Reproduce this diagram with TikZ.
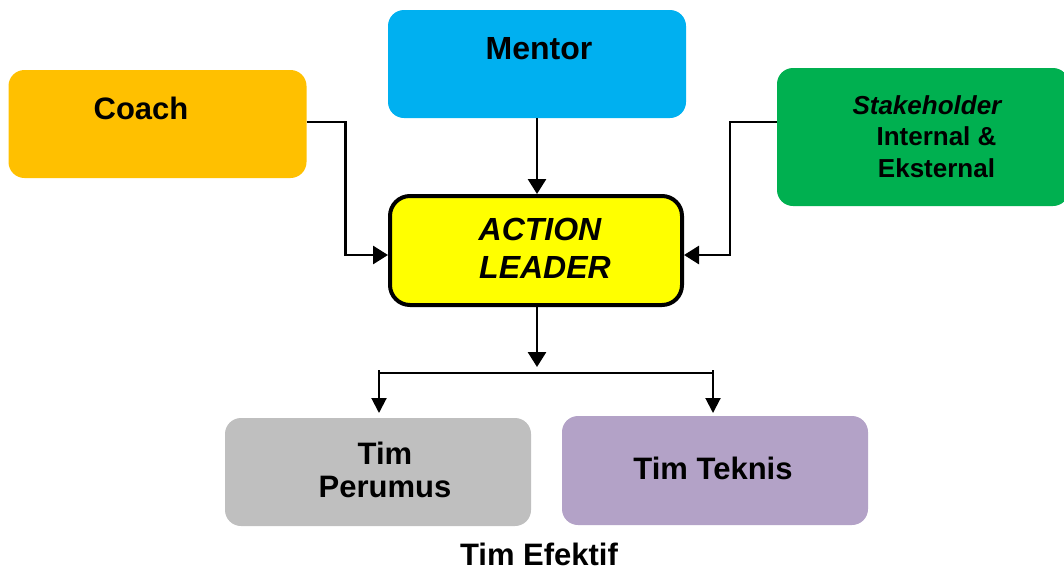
\documentclass[tikz,border=0pt]{standalone}
\usepackage{fontspec}
\setmainfont{Liberation Sans}
\usetikzlibrary{arrows.meta}
\definecolor{coachc}{HTML}{FFC000}
\definecolor{mentorc}{HTML}{00B0F0}
\definecolor{stakec}{HTML}{00B050}
\definecolor{leaderc}{HTML}{FFFF00}
\definecolor{perumusc}{HTML}{BFBFBF}
\definecolor{teknisc}{HTML}{B3A2C7}
\begin{document}
\begin{tikzpicture}[x=1pt,y=-1pt,
  box/.style={rectangle, rounded corners=16pt, inner sep=0pt, outer sep=0pt, draw=none},
  lbl/.style={font=\bfseries\fontsize{31}{33}\selectfont, inner sep=0pt, align=center},
  conn/.style={line width=2.8pt, -{Triangle[length=15pt,width=18pt]}},
  thinconn/.style={line width=2pt, -{Triangle[length=15pt,width=15pt]}},
  thinline/.style={line width=1.5pt}]
\useasboundingbox (0,0) rectangle (1064,571);
% boxes
\node[box, fill=coachc, minimum width=298pt, minimum height=108pt] (coach) at (157.5,124) {};
\node[box, fill=mentorc, minimum width=298pt, minimum height=108pt] (mentor) at (537,64) {};
\node[box, fill=stakec, minimum width=292pt, minimum height=138pt] (stake) at (923,137) {};
\node[box, fill=leaderc, draw=black, line width=4pt, rounded corners=20pt, outer sep=2pt,
      minimum width=292pt, minimum height=109pt] (leader) at (536,250.5) {};
\node[box, fill=perumusc, minimum width=306pt, minimum height=108pt] (perumus) at (378,472) {};
\node[box, fill=teknisc, minimum width=306pt, minimum height=109pt] (teknis) at (715,470.5) {};
% texts
\node[lbl, anchor=north] (coacht) at (141,97) {Coach};
\node[lbl, anchor=north, font=\bfseries\fontsize{32}{34}\selectfont] (mentort) at (539,37) {Mentor};
\node[lbl, anchor=north, font=\bfseries\fontsize{26}{31.5}\selectfont] (staket) at (927.5,95)
  {\textit{Stakeholder}\\\hspace*{18pt}Internal \&\\\hspace*{18pt}Eksternal};
\node[lbl, anchor=north, font=\bfseries\itshape\fontsize{32}{38}\selectfont] (leadert) at (545,218)
  {ACTION\hspace*{10pt}\\LEADER};
\node[lbl, anchor=north] (perumust) at (385,442) {Tim\\Perumus};
\node[lbl, anchor=north] (teknist) at (713,457) {Tim Teknis};
\node[lbl, anchor=north] (efektif) at (539,543) {Tim Efektif};
% connectors
\draw[conn] ([yshift=2pt]coach.east) -- ++(39,0) |- ([yshift=-4.5pt]leader.west);
\draw[conn] ([yshift=15pt]stake.west) -- ++(-47,0) |- ([yshift=-4.5pt]leader.east);
\draw[conn] (mentor.south) -- (mentor.south |- leader.north);
\coordinate (split) at (537,373);
\coordinate (bl) at (379,373);
\coordinate (br) at (713,373);
\draw[conn] (leader.south -| split) -- ([yshift=6pt]split);
\draw[thinline] (bl) -- (br);
\draw[thinconn] ([yshift=3pt]bl) -- ([yshift=5pt]bl |- perumus.north);
\draw[thinconn] ([yshift=3pt]br) -- ([yshift=5pt]br |- perumus.north);
\end{tikzpicture}
\end{document}
